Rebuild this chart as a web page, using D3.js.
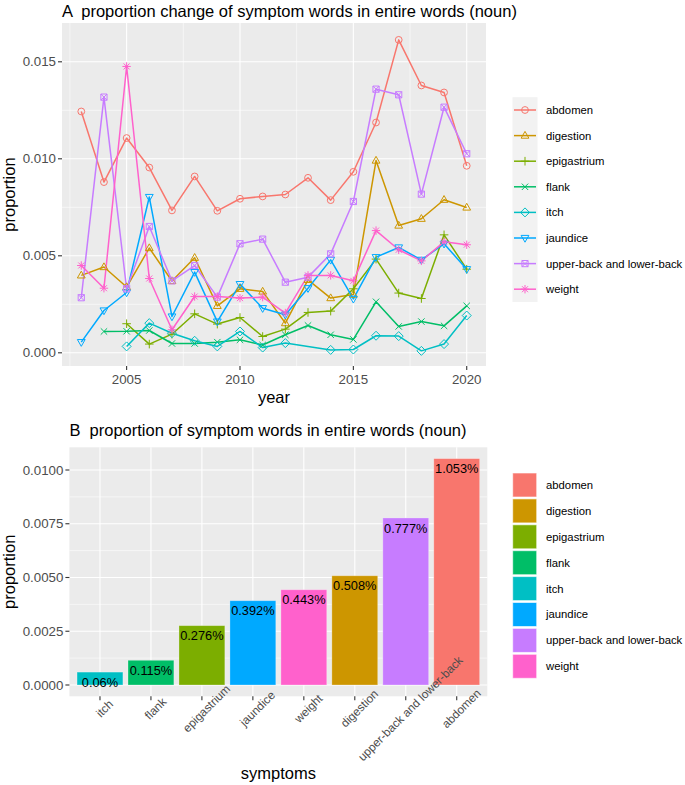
<!DOCTYPE html>
<html><head><meta charset="utf-8">
<script src="https://cdn.jsdelivr.net/npm/d3@7"></script>
<style>body{margin:0;background:#fff} text{font-family:"Liberation Sans",Arial,sans-serif;white-space:pre}</style>
</head><body><svg id="c" width="685" height="785"></svg>
<script>
// ---------- data ----------
const years = [2003,2004,2005,2006,2007,2008,2009,2010,2011,2012,2013,2014,2015,2016,2017,2018,2019,2020];
const seriesNames = ["abdomen","digestion","epigastrium","flank","itch","jaundice","upper-back and lower-back","weight"];
const colors = ["#F8766D","#CD9600","#7CAE00","#00BE67","#00BFC4","#00A9FF","#C77CFF","#FF61CC"];
const abdomen     = [0.01244,0.0088,0.01107,0.00955,0.00734,0.00909,0.00732,0.00794,0.00806,0.00816,0.00902,0.00787,0.00933,0.01187,0.01613,0.01378,0.01342,0.00964];
const digestion   = [0.00399,0.00442,0.00339,0.0054,0.0037,0.0049,0.00242,0.0033,0.00316,0.00153,0.00376,0.00282,0.0030,0.00991,0.00656,0.00691,0.00789,0.00749];
const epigastrium = [null,null,0.0015,0.00045,0.00096,0.00201,0.00148,0.00182,0.00084,0.00122,0.00208,0.00215,0.0033,0.00483,0.00308,0.0028,0.00608,0.00431];
const flank       = [null,0.0011,0.00111,0.00115,0.00048,0.00048,0.00055,0.00067,0.0004,0.00093,0.00141,0.00093,0.00069,0.00263,0.00136,0.00161,0.00139,0.00242];
const itch        = [null,null,0.00033,0.00153,0.00101,0.00062,0.00033,0.0011,0.00027,0.0005,null,0.00015,0.00017,0.00088,0.00086,0.0001,0.00045,0.00192];
const jaundice    = [0.00055,0.00218,0.00311,0.00803,0.00187,0.00416,0.00161,0.00354,0.0023,0.00196,0.00333,0.00479,0.00278,0.00493,0.00543,0.00479,0.00562,0.00431];
const upperLower  = [0.00284,0.01318,0.0033,0.00651,0.00371,0.0045,0.00287,0.00562,0.00586,0.00364,0.0039,0.0051,0.0078,0.01359,0.0133,0.00818,0.01266,0.01026];
const weight      = [0.0045,0.00333,0.01476,0.00383,0.00119,0.0029,0.0029,0.00282,0.00287,0.00205,0.00399,0.00399,0.00371,0.0063,0.00531,0.00474,0.00572,0.00557];
const seriesValues = [abdomen,digestion,epigastrium,flank,itch,jaundice,upperLower,weight];
const yearTicks = [2005,2010,2015,2020];
const yTicksA = [0,0.005,0.010,0.015];
const yTickLabelsA = ["0.000","0.005","0.010","0.015"];

const symptoms = ["itch","flank","epigastrium","jaundice","weight","digestion","upper-back and lower-back","abdomen"];
const symptomValues = [0.0006,0.00115,0.00276,0.00392,0.00443,0.00508,0.00777,0.01053];
const symptomLabels = ["0.06%","0.115%","0.276%","0.392%","0.443%","0.508%","0.777%","1.053%"];
const yTicksB = [0,0.0025,0.005,0.0075,0.01];
const yTickLabelsB = ["0.0000","0.0025","0.0050","0.0075","0.0100"];

// ---------- helpers ----------
const svg = d3.select("#c");
const PANEL = "#EBEBEB", TXT = "#4D4D4D", TICK = "#333333";
function shapePath(k){
  switch(k){
    case 0: return "M3.4,0A3.4,3.4 0 1,1 -3.4,0A3.4,3.4 0 1,1 3.4,0Z";
    case 1: return "M0,-4.2L3.9,2.6L-3.9,2.6Z";
    case 2: return "M-4.3,0H4.3M0,-4.3V4.3";
    case 3: return "M-3.2,-3.2L3.2,3.2M-3.2,3.2L3.2,-3.2";
    case 4: return "M0,-4.5L4.5,0L0,4.5L-4.5,0Z";
    case 5: return "M0,4.2L3.9,-2.6L-3.9,-2.6Z";
    case 6: return "M-3.1,-3.1H3.1V3.1H-3.1ZM-3.1,-3.1L3.1,3.1M-3.1,3.1L3.1,-3.1";
    case 7: return "M-4.2,0H4.2M0,-4.2V4.2M-3,-3L3,3M-3,3L3,-3";
  }
}

// ---------- Panel A ----------
const A = {l:62, r:486, t:23, b:366};
const xA = d3.scaleLinear().domain([2002.15,2020.85]).range([A.l,A.r]);
const yA = d3.scaleLinear().domain([-0.00068,0.017]).range([A.b,A.t]);
const gA = svg.append("g");
gA.append("rect").attr("x",A.l).attr("y",A.t).attr("width",A.r-A.l).attr("height",A.b-A.t).attr("fill",PANEL);
[0.0025,0.0075,0.0125].forEach(v=>gA.append("line").attr("x1",A.l).attr("x2",A.r).attr("y1",yA(v)).attr("y2",yA(v)).attr("stroke","#fff").attr("stroke-width",0.55));
[2002.5,2007.5,2012.5,2017.5].forEach(v=>gA.append("line").attr("y1",A.t).attr("y2",A.b).attr("x1",xA(v)).attr("x2",xA(v)).attr("stroke","#fff").attr("stroke-width",0.55));
yTicksA.forEach(v=>gA.append("line").attr("x1",A.l).attr("x2",A.r).attr("y1",yA(v)).attr("y2",yA(v)).attr("stroke","#fff").attr("stroke-width",1.1));
yearTicks.forEach(v=>gA.append("line").attr("y1",A.t).attr("y2",A.b).attr("x1",xA(v)).attr("x2",xA(v)).attr("stroke","#fff").attr("stroke-width",1.1));

const seriesData = seriesNames.map((n,i)=>({name:n,color:colors[i],shape:i,
  pts:years.map((yr,j)=>({year:yr,v:seriesValues[i][j]})).filter(d=>d.v!=null)}));
const line = d3.line().x(d=>xA(d.year)).y(d=>yA(d.v));
seriesData.forEach(s=>gA.append("path").attr("d",line(s.pts)).attr("fill","none").attr("stroke",s.color).attr("stroke-width",1.5).attr("stroke-linejoin","round"));
seriesData.forEach(s=>gA.selectAll(null).data(s.pts).enter().append("path")
  .attr("d",shapePath(s.shape)).attr("transform",d=>`translate(${xA(d.year)},${yA(d.v)})`)
  .attr("fill","none").attr("stroke",s.color).attr("stroke-width",1));

// axes A
yTicksA.forEach((v,i)=>{
  gA.append("line").attr("x1",A.l-4).attr("x2",A.l).attr("y1",yA(v)).attr("y2",yA(v)).attr("stroke",TICK).attr("stroke-width",1.1);
  gA.append("text").attr("x",A.l-6).attr("y",yA(v)).attr("dy","0.35em").attr("text-anchor","end").attr("font-size",13.3).attr("fill",TXT).text(yTickLabelsA[i]);
});
yearTicks.forEach(v=>{
  gA.append("line").attr("x1",xA(v)).attr("x2",xA(v)).attr("y1",A.b).attr("y2",A.b+4).attr("stroke",TICK).attr("stroke-width",1.1);
  gA.append("text").attr("x",xA(v)).attr("y",A.b+18).attr("text-anchor","middle").attr("font-size",13.3).attr("fill",TXT).text(v);
});
gA.append("text").attr("x",(A.l+A.r)/2).attr("y",403).attr("text-anchor","middle").attr("font-size",16.5).text("year");
gA.append("text").attr("transform",`translate(15,${(A.t+A.b)/2}) rotate(-90)`).attr("text-anchor","middle").attr("font-size",16.5).text("proportion");
gA.append("text").attr("x",A.l).attr("y",17).attr("font-size",16.5).attr("xml:space","preserve").text("A  proportion change of symptom words in entire words (noun)");

// legend A
const legA = svg.append("g");
const legAy0 = 110, legStep = 25.6;
legA.append("rect").attr("x",512.5).attr("y",legAy0-legStep/2).attr("width",25).attr("height",legStep*8).attr("fill","#F2F2F2");
seriesData.forEach((s,i)=>{
  const cy = legAy0 + i*legStep;
  legA.append("line").attr("x1",514).attr("x2",536).attr("y1",cy).attr("y2",cy).attr("stroke",s.color).attr("stroke-width",1.5);
  legA.append("path").attr("d",shapePath(s.shape)).attr("transform",`translate(525,${cy})`).attr("fill","none").attr("stroke",s.color).attr("stroke-width",1);
  legA.append("text").attr("x",546).attr("y",cy).attr("dy","0.35em").attr("font-size",11.3).attr("fill","#000").text(s.name);
});

// ---------- Panel B ----------
const B = {l:69.4, r:487.3, t:447.3, b:696.3};
const xB = d3.scaleBand().domain(symptoms).range([B.l,B.r]).paddingInner(0.1).paddingOuter(0.15);
const yB = d3.scaleLinear().domain([-0.000526,0.011056]).range([B.b,B.t]);
const gB = svg.append("g");
gB.append("rect").attr("x",B.l).attr("y",B.t).attr("width",B.r-B.l).attr("height",B.b-B.t).attr("fill",PANEL);
[0.00125,0.00375,0.00625,0.00875].forEach(v=>gB.append("line").attr("x1",B.l).attr("x2",B.r).attr("y1",yB(v)).attr("y2",yB(v)).attr("stroke","#fff").attr("stroke-width",0.55));
yTicksB.forEach(v=>gB.append("line").attr("x1",B.l).attr("x2",B.r).attr("y1",yB(v)).attr("y2",yB(v)).attr("stroke","#fff").attr("stroke-width",1.1));
symptoms.forEach(s=>{const cx=xB(s)+xB.bandwidth()/2; gB.append("line").attr("x1",cx).attr("x2",cx).attr("y1",B.t).attr("y2",B.b).attr("stroke","#fff").attr("stroke-width",1.1);});

const colorOf = n => colors[seriesNames.indexOf(n)];
gB.selectAll(null).data(symptoms).enter().append("rect")
  .attr("x",d=>xB(d)).attr("width",xB.bandwidth())
  .attr("y",(d,i)=>yB(symptomValues[i])).attr("height",(d,i)=>yB(0)-yB(symptomValues[i]))
  .attr("fill",d=>colorOf(d)).attr("stroke","#fff").attr("stroke-opacity",0.35).attr("stroke-width",0.8);
gB.selectAll(null).data(symptoms).enter().append("text")
  .attr("x",d=>xB(d)+xB.bandwidth()/2).attr("y",(d,i)=>yB(symptomValues[i])+14.6)
  .attr("text-anchor","middle").attr("font-size",12.8).attr("fill","#000").text((d,i)=>symptomLabels[i]);

yTicksB.forEach((v,i)=>{
  gB.append("line").attr("x1",B.l-4).attr("x2",B.l).attr("y1",yB(v)).attr("y2",yB(v)).attr("stroke",TICK).attr("stroke-width",1.1);
  gB.append("text").attr("x",B.l-6).attr("y",yB(v)).attr("dy","0.35em").attr("text-anchor","end").attr("font-size",13.3).attr("fill",TXT).text(yTickLabelsB[i]);
});
symptoms.forEach(s=>{
  const cx=xB(s)+xB.bandwidth()/2;
  gB.append("line").attr("x1",cx).attr("x2",cx).attr("y1",B.b).attr("y2",B.b+4).attr("stroke",TICK).attr("stroke-width",1.1);
  gB.append("text").attr("transform",`translate(${cx+4.5},708.5) rotate(-45)`).attr("text-anchor","middle").attr("dy","0.35em").attr("font-size",11.8).attr("fill",TXT).text(s);
});
gB.append("text").attr("x",(B.l+B.r)/2).attr("y",779).attr("text-anchor","middle").attr("font-size",16.5).text("symptoms");
gB.append("text").attr("transform",`translate(15,${(B.t+B.b)/2}) rotate(-90)`).attr("text-anchor","middle").attr("font-size",16.5).text("proportion");
gB.append("text").attr("x",B.l).attr("y",436).attr("font-size",16.5).attr("xml:space","preserve").text("B  proportion of symptom words in entire words (noun)");

// legend B
const legB = svg.append("g");
const legBy0 = 485, legBStep = 25.9;
seriesNames.forEach((n,i)=>{
  const cy = legBy0 + i*legBStep;
  legB.append("rect").attr("x",512.7).attr("y",cy-12).attr("width",24).attr("height",24).attr("fill",colors[i]).attr("stroke","#fff").attr("stroke-opacity",0.6).attr("stroke-width",1);
  legB.append("text").attr("x",546).attr("y",cy).attr("dy","0.35em").attr("font-size",11.3).attr("fill","#000").text(n);
});
</script></body></html>
